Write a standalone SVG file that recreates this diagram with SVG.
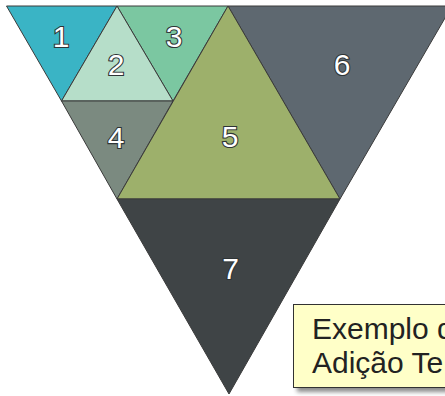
<svg xmlns="http://www.w3.org/2000/svg" width="445" height="396" viewBox="0 0 445 396">
<style>
.tri{stroke:#3a3a3a;stroke-width:1;stroke-linejoin:round}
.lbl{font-family:"Liberation Sans",Arial,sans-serif;font-size:30px;fill:#fff;stroke:#2e3436;stroke-width:2.2;paint-order:stroke;text-anchor:middle}
.note{font-family:"Liberation Sans",Arial,sans-serif;font-size:30px;fill:#222}
</style>
<defs>
<filter id="sh" x="-10%" y="-10%" width="130%" height="140%">
<feGaussianBlur in="SourceAlpha" stdDeviation="2"/>
<feOffset dx="4" dy="4" result="b"/>
<feFlood flood-color="#000" flood-opacity="0.45"/>
<feComposite in2="b" operator="in"/>
<feMerge><feMergeNode/><feMergeNode in="SourceGraphic"/></feMerge>
</filter>
</defs>
<rect width="445" height="396" fill="#fff"/>
<g id="t6"><polygon class="tri" points="228,6 452,6 340,199" fill="#5e6870"/><text class="lbl" x="342" y="75">6</text></g>
<g id="t1"><polygon class="tri" points="6.5,6 117,6 61.5,101" fill="#3ab4c5"/><text class="lbl" x="61" y="47">1</text></g>
<g id="t3"><polygon class="tri" points="117,6 228,6 173,101" fill="#7bc7a1"/><text class="lbl" x="174" y="47">3</text></g>
<g id="t2"><polygon class="tri" points="117,6 61.5,101 173,101" fill="#b6dec9"/><text class="lbl" x="116" y="75">2</text></g>
<g id="t4"><polygon class="tri" points="61.5,101 173,101 117,199" fill="#7b8a80"/><text class="lbl" x="116" y="148">4</text></g>
<g id="t5"><polygon class="tri" points="228,6 117,199 340,199" fill="#9db06b"/><text class="lbl" x="230" y="147">5</text></g>
<g id="t7"><polygon class="tri" points="117,199 340,199 229,394" fill="#3f4446"/><text class="lbl" x="230.5" y="279">7</text></g>
<g id="note">
<rect x="293.5" y="304.5" width="170" height="83" fill="#ffffc8" stroke="#333" stroke-width="1" filter="url(#sh)"/>
<text class="note" x="312" y="339">Exemplo d</text>
<text class="note" x="312" y="373">Adição Te</text>
</g>
</svg>
